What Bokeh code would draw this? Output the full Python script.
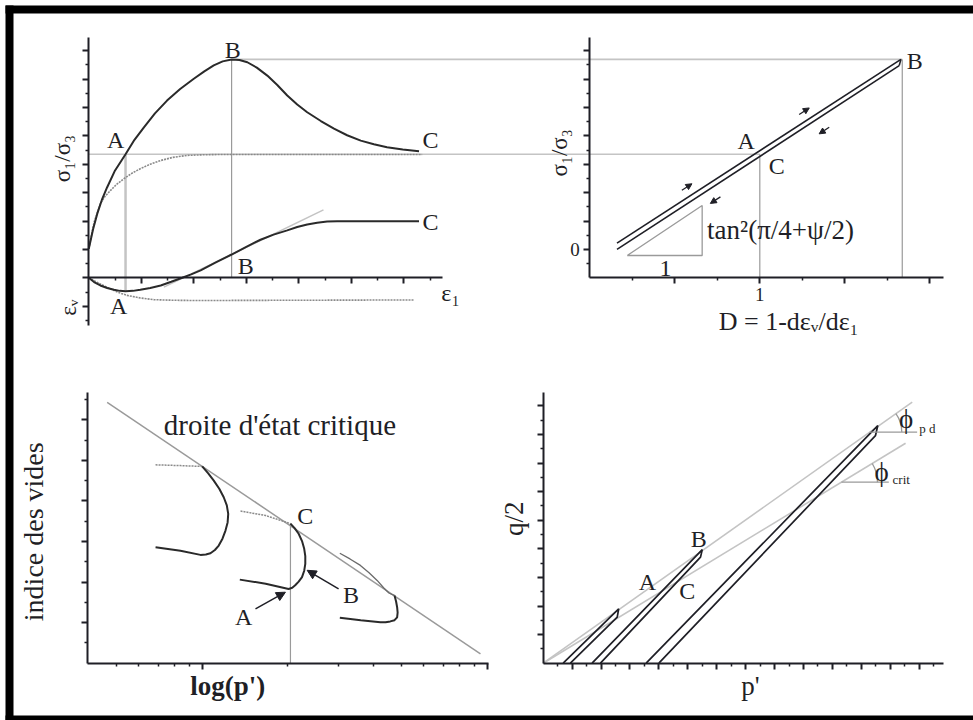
import math
from bokeh.plotting import figure
from bokeh.models import (Range1d, LinearAxis, LogAxis, LogScale, FixedTicker,
                          Label, Arrow, NormalHead)
from bokeh.embed import file_html
from bokeh.resources import INLINE

W, H = 973, 720
INK = "#1f1f26"
FONT = "Liberation Serif"
GREY_LIGHT = "#c4c4c4"
GREY_MID = "#9a9a9a"
GREY_DASH = "#8a8a8a"

# ---------------- panel 1 : stress ratio and volumetric strain vs axial strain
eps1_dense = [0.0, 0.08, 0.16, 0.25, 0.35, 0.50, 0.70, 0.87, 1.05, 1.26, 1.49, 1.74,
              2.00, 2.20, 2.38, 2.55, 2.72, 2.87, 3.02, 3.20, 3.40, 3.59, 3.78, 3.97,
              4.16, 4.42, 4.67, 4.92, 5.18, 5.43, 5.68, 5.98, 6.29]
ratio_dense = [0.02, 0.70, 1.25, 1.75, 2.19, 2.78, 3.35, 3.86, 4.30, 4.79, 5.24, 5.65,
               6.01, 6.27, 6.48, 6.62, 6.69, 6.67, 6.59, 6.40, 6.12, 5.79, 5.42, 5.10,
               4.83, 4.52, 4.25, 4.02, 3.83, 3.70, 3.60, 3.52, 3.46]
eps1_loose = [0.0, 0.10, 0.22, 0.31, 0.41, 0.53, 0.67, 0.82, 0.98, 1.17, 1.37, 1.60,
              1.87, 2.15, 2.45, 6.35]
ratio_loose = [0.02, 0.95, 1.61, 1.87, 2.07, 2.29, 2.49, 2.68, 2.84, 3.00, 3.13, 3.24,
               3.31, 3.33, 3.34, 3.34]
eps1_vol_dense = [0.0, 0.10, 0.22, 0.35, 0.48, 0.59, 0.70, 0.84, 0.98, 1.17, 1.37, 1.57,
                  1.78, 1.95, 2.13, 2.42, 2.72, 3.00, 3.27, 3.52, 3.78, 3.97, 4.16, 4.35,
                  4.54, 4.73, 4.92, 6.29]
epsv_dense = [0.0, -0.15, -0.27, -0.36, -0.42, -0.46, -0.47, -0.46, -0.42, -0.36, -0.27,
              -0.14, 0.0, 0.12, 0.26, 0.54, 0.82, 1.09, 1.34, 1.52, 1.67, 1.79, 1.88, 1.94,
              1.98, 1.99, 1.99, 1.99]
eps1_vol_loose = [0.0, 0.20, 0.41, 0.57, 0.73, 0.98, 1.24, 1.60, 2.00, 6.19]
epsv_loose = [0.0, -0.20, -0.39, -0.52, -0.62, -0.71, -0.77, -0.79, -0.80, -0.78]
tangent_eps1 = [1.43, 4.47]
tangent_epsv = [-0.33, 2.39]
point_A = (0.70, 3.35)        # eps1, stress ratio
point_B = (2.72, 6.69)
epsv_min = -0.47

# ---------------- panel 2 : stress-dilatancy
D_load = [0.16, 1.83]
ratio_load = [0.22, 6.69]
D_unload = [0.16, 1.82]
ratio_unload = [0.0, 6.47]
D_at_A = 1.0
D_at_B = 1.838
slope_tri_D = [0.22, 0.661, 0.661, 0.22]
slope_tri_r = [-0.215, 1.546, -0.215, -0.215]

# ---------------- panel 3 : void ratio vs log p'
csl_p = [4.64, 94.7]
csl_e = [6.43, 0.23]
loose1_p = [6.86, 8.39, 10.0]
loose1_e = [4.89, 4.87, 4.85]
path1_p = [6.86, 8.39, 9.86, 10.30, 10.69, 11.08, 11.43, 11.78, 12.07, 12.28, 12.34,
           12.20, 11.90, 11.48, 10.98, 10.50, 10.0]
path1_e = [2.86, 2.77, 2.67, 2.68, 2.71, 2.79, 2.90, 3.07, 3.27, 3.47, 3.68, 3.89,
           4.09, 4.30, 4.50, 4.68, 4.85]
loose2_p = [13.63, 16.7, 20.4]
loose2_e = [3.75, 3.64, 3.44]
path2_p = [13.55, 16.7, 20.1, 20.7, 21.2, 21.8, 22.4, 22.8, 23.0, 23.0, 22.8, 22.4,
           21.8, 21.1, 20.4]
path2_e = [2.06, 1.96, 1.83, 1.86, 1.92, 2.01, 2.12, 2.28, 2.45, 2.64, 2.82, 3.01,
           3.19, 3.33, 3.44]
upper3_p = [30.4, 33.0, 35.9, 38.5, 41.1, 43.3, 45.2, 46.5, 47.3]
upper3_e = [2.71, 2.57, 2.41, 2.23, 2.04, 1.86, 1.73, 1.69, 1.67]
path3_p = [47.3, 47.9, 48.3, 48.5, 48.3, 47.3, 45.7, 44.0, 42.2, 36.0, 30.4]
path3_e = [1.67, 1.52, 1.38, 1.25, 1.13, 1.06, 1.03, 1.01, 1.01, 1.06, 1.12]
point_C3 = (20.4, 3.44)

# ---------------- panel 4 : q/2 vs p'
paths_p = [[0.69, 2.61, 2.56, 0.94],
           [1.69, 5.50, 5.44, 1.98],
           [3.56, 11.57, 11.49, 4.00]]
paths_q = [[0.0, 1.90, 1.61, 0.0],
           [0.0, 3.97, 3.71, 0.0],
           [0.0, 8.31, 7.96, 0.0]]
env_peak_p = [0.0, 12.76]
env_peak_q = [0.0, 9.13]
env_crit_p = [0.0, 12.53]
env_crit_q = [0.0, 7.69]


# ---------------- screen placement of each panel (anchor pixel, px per unit)
def xr(v0, a0, k):
    return Range1d(v0 - a0 / k, v0 + (W - a0) / k)


def yr(v0, a0, k):
    return Range1d(v0 - (H - a0) / k, v0 + a0 / k)


E1_X0, E1_K = 88.3, 52.5
EV_Y0, EV_K = 277.3, 28.4
D_X0, D_K = 589.3, 170.0
LP_X10, LP_DEC = 201.7, 285.0
VR_Y0, VR_K = 662.7, 40.57
PP_X0, PP_K = 542.7, 28.92
QQ_Y0, QQ_K = 662.7, 28.6

p = figure(width=W, height=H, x_range=Range1d(0, W), y_range=Range1d(H, 0),
           x_axis_type=None, y_axis_type=None, toolbar_location=None,
           output_backend="svg", min_border=0, outline_line_color=None,
           background_fill_color="white", border_fill_color="white")
p.grid.visible = False

p.extra_x_ranges = {
    "e1": xr(0, E1_X0, E1_K),
    "D": xr(0, D_X0, D_K),
    "lp": Range1d(10 ** (1 - LP_X10 / LP_DEC), 10 ** (1 + (W - LP_X10) / LP_DEC)),
    "pp": xr(0, PP_X0, PP_K),
}
p.extra_x_scales = {"lp": LogScale()}
p.extra_y_ranges = {
    "ev": yr(0, EV_Y0, EV_K),
    "sig": yr(-1, EV_Y0, EV_K),
    "vr": yr(0, VR_Y0, VR_K),
    "qq": yr(0, QQ_Y0, QQ_K),
}

# outer frame
p.quad(left=[5, 5, 5], right=[13, W, W], top=[5, 5, 715], bottom=[H, 13, H],
       color="black", line_color=None)


def style_axis(ax, labels=None):
    ax.axis_line_width = 2
    ax.axis_line_color = INK
    ax.major_tick_line_color = INK
    ax.minor_tick_line_color = INK
    ax.major_tick_line_width = 2
    ax.minor_tick_line_width = 1.5
    ax.major_tick_in = 0
    ax.major_tick_out = 6
    ax.minor_tick_in = 0
    ax.minor_tick_out = 3
    ax.major_label_text_font = FONT
    ax.major_label_text_font_size = "19px"
    ax.major_label_text_color = INK
    ax.major_label_standoff = 4
    ticks = ax.ticker.ticks
    shown = labels or {}
    ax.major_label_overrides = {t: shown.get(t, "") for t in ticks}


def halves(a, b):
    return [a + 0.5 * i for i in range(int(round((b - a) / 0.5)) + 1)]


def label(text, x, y, xn, yn, size=24, align="center", baseline="middle",
          angle=0, style="normal", color=INK, xo=0, yo=0):
    p.add_layout(Label(text=text, x=x, y=y, x_range_name=xn, y_range_name=yn,
                       text_font=FONT, text_font_size=f"{size}px",
                       text_align=align, text_baseline=baseline, angle=angle,
                       text_font_style=style, text_color=color,
                       x_offset=xo, y_offset=yo))


# ====== panel 1
ax = LinearAxis(x_range_name="e1", y_range_name="ev", fixed_location=0, bounds=(0, 6.74),
                ticker=FixedTicker(ticks=[1, 2, 3, 4, 5, 6],
                                   minor_ticks=[v for v in halves(0.5, 6.5) if v % 1]))
style_axis(ax)
p.add_layout(ax, "below")
ay = LinearAxis(x_range_name="e1", y_range_name="ev", fixed_location=0, bounds=(-1.68, 8.47),
                ticker=FixedTicker(ticks=list(range(-1, 9)),
                                   minor_ticks=[v for v in halves(-1.5, 7.5) if v % 1]))
style_axis(ay)
p.add_layout(ay, "left")


# links to the stress-dilatancy panel
def e1_of_D(d):
    return (D_X0 + d * D_K - E1_X0) / E1_K


p.segment(x0=[0.0, point_B[0]], x1=[e1_of_D(D_at_A), e1_of_D(D_at_B)],
          y0=[point_A[1], point_B[1]], y1=[point_A[1], point_B[1]],
          x_range_name="e1", y_range_name="sig", line_color=GREY_LIGHT, line_width=1.6)
p.segment(x0=[point_A[0]], x1=[point_A[0]], y0=[point_A[1] + 1], y1=[epsv_min],
          x_range_name="e1", y_range_name="ev", line_color=GREY_LIGHT, line_width=2.5)
p.segment(x0=[point_B[0]], x1=[point_B[0]], y0=[point_B[1] + 1], y1=[0],
          x_range_name="e1", y_range_name="ev", line_color=GREY_MID, line_width=1.2)
p.line(tangent_eps1, tangent_epsv, x_range_name="e1", y_range_name="ev",
       line_color=GREY_LIGHT, line_width=1.5)

p.line(eps1_loose, ratio_loose, x_range_name="e1", y_range_name="sig",
       line_color=GREY_DASH, line_width=1.6, line_dash="2 1")
p.line(eps1_vol_loose, epsv_loose, x_range_name="e1", y_range_name="ev",
       line_color=GREY_DASH, line_width=1.6, line_dash="2 1")
p.line(eps1_dense, ratio_dense, x_range_name="e1", y_range_name="sig",
       line_color="#2a2a2a", line_width=2)
p.line(eps1_vol_dense, epsv_dense, x_range_name="e1", y_range_name="ev",
       line_color="#2a2a2a", line_width=2)

label("A", 0.51, 3.86, "e1", "sig")
label("B", 2.74, 7.03, "e1", "sig")
label("C", 6.51, 3.86, "e1", "sig")
label("C", 6.51, 1.97, "e1", "ev")
label("B", 2.99, 0.43, "e1", "ev")
label("A", 0.57, -0.98, "e1", "ev")
label("σ₁/σ₃", -0.51, 3.2, "e1", "sig", size=23, angle=math.pi / 2)
label("εᵥ", -0.39, -1.05, "e1", "ev", size=23, angle=math.pi / 2)
label("ε₁", 6.89, -0.52, "e1", "ev", size=24)

# ====== panel 2
bx = LinearAxis(x_range_name="D", y_range_name="sig", fixed_location=-1, bounds=(0, 2.08),
                ticker=FixedTicker(ticks=[0.5, 1, 1.5, 2], minor_ticks=[0.25, 0.75, 1.25, 1.75]))
style_axis(bx, {1: "1"})
p.add_layout(bx, "below")
by = LinearAxis(x_range_name="D", y_range_name="sig", fixed_location=0, bounds=(-1, 7.47),
                ticker=FixedTicker(ticks=list(range(0, 8)),
                                   minor_ticks=[v for v in halves(-0.5, 6.5) if v % 1]))
style_axis(by, {0: "0"})
p.add_layout(by, "left")

p.segment(x0=[D_at_A, D_at_B], x1=[D_at_A, D_at_B], y0=[point_A[1], point_B[1]], y1=[-1, -1],
          x_range_name="D", y_range_name="sig", line_color=GREY_MID, line_width=1.2)
p.line(slope_tri_D, slope_tri_r, x_range_name="D", y_range_name="sig",
       line_color=GREY_MID, line_width=1.3)
p.line(D_load, ratio_load, x_range_name="D", y_range_name="sig", line_color=INK, line_width=1.6)
p.line(D_unload, ratio_unload, x_range_name="D", y_range_name="sig", line_color=INK, line_width=1.6)
p.line([D_load[1], D_unload[1]], [ratio_load[1], ratio_unload[1]], x_range_name="D",
       y_range_name="sig", line_color=INK, line_width=1.6)


def small_arrow(d, r, sign, offset):
    # short arrow parallel to the stress-dilatancy line, set beside it
    sx = D_X0 + d * D_K
    sy = EV_Y0 - (r + 1) * EV_K
    ux, uy = 0.84, -0.543
    cx = sx + 0.543 * offset
    cy = sy + 0.84 * offset
    x0, y0 = cx - sign * 6 * ux, cy - sign * 6 * uy
    x1, y1 = cx + sign * 6 * ux, cy + sign * 6 * uy
    p.add_layout(Arrow(end=NormalHead(size=6, fill_color=INK, line_color=INK),
                       x_start=(x0 - D_X0) / D_K, y_start=(EV_Y0 - y0) / EV_K - 1,
                       x_end=(x1 - D_X0) / D_K, y_end=(EV_Y0 - y1) / EV_K - 1,
                       x_range_name="D", y_range_name="sig", line_color=INK, line_width=1.3))


small_arrow(0.60, 1.93, 1, -9)
small_arrow(1.29, 4.60, 1, -9)
small_arrow(0.71, 2.00, -1, 9)
small_arrow(1.35, 4.45, -1, 9)

label("A", 0.92, 3.83, "D", "sig")
label("C", 1.10, 2.93, "D", "sig")
label("B", 1.90, 6.65, "D", "sig", align="left", xo=-6)
label("1", 0.445, -0.68, "D", "sig")
label("tan²(π/4+ψ/2)", 0.69, 0.69, "D", "sig", size=27, align="left")
label("σ₁/σ₃", -0.18, 3.4, "D", "sig", size=23, angle=math.pi / 2)
label("D = 1-dεᵥ/dε₁", 1.17, -2.54, "D", "sig", size=26)

# ====== panel 3
cx = LogAxis(x_range_name="lp", y_range_name="vr", fixed_location=0, bounds=(3.97, 101),
             ticker=FixedTicker(ticks=[10, 100],
                                minor_ticks=[5, 6, 7, 8, 9, 20, 30, 40, 50, 60, 70, 80, 90]))
style_axis(cx)
p.add_layout(cx, "below")
cy_ = LinearAxis(x_range_name="lp", y_range_name="vr", fixed_location=3.97, bounds=(0, 6.67),
                 ticker=FixedTicker(ticks=[1, 2, 3, 4, 5, 6],
                                    minor_ticks=[v for v in halves(0.5, 6.5) if v % 1]))
style_axis(cy_)
p.add_layout(cy_, "left")

p.line(csl_p, csl_e, x_range_name="lp", y_range_name="vr", line_color=GREY_MID, line_width=1.5)
p.segment(x0=[point_C3[0]], x1=[point_C3[0]], y0=[point_C3[1]], y1=[0],
          x_range_name="lp", y_range_name="vr", line_color=GREY_MID, line_width=1.2)
for xs, ys in [(loose1_p, loose1_e), (loose2_p, loose2_e)]:
    p.line(xs, ys, x_range_name="lp", y_range_name="vr", line_color=GREY_DASH,
           line_width=1.5, line_dash="2 1")
p.line(upper3_p, upper3_e, x_range_name="lp", y_range_name="vr", line_color="#6a6a6a",
       line_width=1.3)
for xs, ys in [(path1_p, path1_e), (path2_p, path2_e), (path3_p, path3_e)]:
    p.line(xs, ys, x_range_name="lp", y_range_name="vr", line_color="#2a2a2a", line_width=2)

p.add_layout(Arrow(end=NormalHead(size=9, fill_color=INK, line_color=INK),
                   x_start=15.38, y_start=1.34, x_end=19.59, y_end=1.75,
                   x_range_name="lp", y_range_name="vr", line_color=INK, line_width=1.5))
p.add_layout(Arrow(end=NormalHead(size=9, fill_color=INK, line_color=INK),
                   x_start=30.1, y_start=1.83, x_end=23.35, y_end=2.29,
                   x_range_name="lp", y_range_name="vr", line_color=INK, line_width=1.5))
label("A", 13.99, 1.13, "lp", "vr")
label("B", 33.3, 1.67, "lp", "vr")
label("C", 23.0, 3.64, "lp", "vr")
label("droite d'état critique", 7.33, 5.86, "lp", "vr", size=29, align="left")
label("indice des vides", 2.56, 3.24, "lp", "vr", size=28, angle=math.pi / 2)
label("log(p')", 12.3, -0.55, "lp", "vr", size=27, style="bold")

# ====== panel 4
dx = LinearAxis(x_range_name="pp", y_range_name="qq", fixed_location=0, bounds=(0, 13.83),
                ticker=FixedTicker(ticks=list(range(1, 14)),
                                   minor_ticks=[v for v in halves(0.5, 13.5) if v % 1]))
style_axis(dx)
p.add_layout(dx, "below")
dy = LinearAxis(x_range_name="pp", y_range_name="qq", fixed_location=0, bounds=(0, 9.48),
                ticker=FixedTicker(ticks=list(range(1, 10)),
                                   minor_ticks=[v for v in halves(0.5, 8.5) if v % 1]))
style_axis(dy)
p.add_layout(dy, "left")

p.line(env_peak_p, env_peak_q, x_range_name="pp", y_range_name="qq",
       line_color=GREY_LIGHT, line_width=1.6)
p.line(env_crit_p, env_crit_q, x_range_name="pp", y_range_name="qq",
       line_color=GREY_LIGHT, line_width=1.6)
for xs, ys in zip(paths_p, paths_q):
    p.line(xs, ys, x_range_name="pp", y_range_name="qq", line_color=INK, line_width=1.7)

# friction angle marks
peak_slope = env_peak_q[1] / env_peak_p[1]
crit_slope = env_crit_q[1] / env_crit_p[1]
for q0, slope, r, x_end in [(8.08, peak_slope, 32, 12.93), (6.33, crit_slope, 36, 11.95)]:
    x0 = q0 / slope
    p.segment(x0=[x0], x1=[x_end], y0=[q0], y1=[q0], x_range_name="pp", y_range_name="qq",
              line_color=GREY_MID, line_width=1.3)
    ang = math.atan(slope * QQ_K / PP_K)
    p.arc(x=[x0], y=[q0], radius=r, radius_units="screen", start_angle=0, end_angle=ang,
          x_range_name="pp", y_range_name="qq", line_color=GREY_MID, line_width=1.3)

label("ϕ", 12.55, 8.55, "pp", "qq", size=27)
label("p d", 13.0, 8.22, "pp", "qq", size=13, align="left")
label("ϕ", 11.7, 6.7, "pp", "qq", size=27)
label("crit", 12.08, 6.42, "pp", "qq", size=13, align="left")
label("A", 3.60, 2.83, "pp", "qq")
label("B", 5.38, 4.35, "pp", "qq")
label("C", 4.98, 2.54, "pp", "qq")
label("q/2", -1.0, 5.05, "pp", "qq", size=27, angle=math.pi / 2)
label("p'", 7.17, -0.78, "pp", "qq", size=27)

open("out.html", "w").write(file_html(p, INLINE))
